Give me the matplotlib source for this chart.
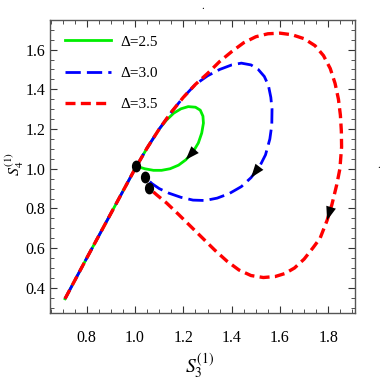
import matplotlib
matplotlib.use("Agg")
import matplotlib.pyplot as plt
from matplotlib.markers import MarkerStyle
from matplotlib.transforms import Affine2D

plt.rcParams['font.family'] = ['Liberation Serif', 'DejaVu Serif']
plt.rcParams['mathtext.fontset'] = 'stix'

# shared rising branch (all three curves run along it)
trunk_x = [0.71, 0.80, 0.90, 1.00, 1.05, 1.10]
trunk_y = [0.345, 0.55, 0.775, 1.00, 1.105, 1.20]

# Delta = 2.5 loop, ends at its starting dot
green_x = [1.13, 1.16, 1.19, 1.22, 1.25, 1.27, 1.281, 1.283, 1.276, 1.262,
           1.24, 1.21, 1.18, 1.145, 1.11, 1.076, 1.04, 1.005]
green_y = [1.245, 1.28, 1.302, 1.313, 1.31, 1.295, 1.265, 1.23, 1.18, 1.13,
           1.085, 1.045, 1.018, 1.0, 0.992, 0.992, 1.0, 1.013]
green_arrow = 10

# Delta = 3.0
blue_x = [1.15, 1.20, 1.25, 1.30, 1.35, 1.40, 1.44, 1.48, 1.51, 1.535, 1.552,
          1.562, 1.567, 1.566, 1.558, 1.54, 1.515, 1.48, 1.44, 1.39, 1.34,
          1.29, 1.24, 1.19, 1.14, 1.10, 1.07, 1.041]
blue_y = [1.285, 1.36, 1.425, 1.468, 1.50, 1.523, 1.532, 1.523, 1.50, 1.465, 1.42,
          1.36, 1.30, 1.22, 1.15, 1.07, 1.01, 0.955, 0.91, 0.875, 0.852,
          0.84, 0.842, 0.856, 0.877, 0.90, 0.925, 0.958]
blue_arrow = 16

# Delta = 3.5
red_x = [1.15, 1.20, 1.25, 1.30, 1.35, 1.40, 1.45, 1.50, 1.55, 1.60, 1.65,
         1.70, 1.745, 1.78, 1.808, 1.828, 1.842, 1.85, 1.854, 1.855, 1.848,
         1.835, 1.815, 1.795, 1.766, 1.738, 1.70, 1.66, 1.62, 1.58, 1.531,
         1.48, 1.43, 1.38, 1.33, 1.28, 1.23, 1.18, 1.13, 1.09, 1.058]
red_y = [1.285, 1.36, 1.425, 1.48, 1.54, 1.59, 1.635, 1.665, 1.68, 1.683, 1.675,
         1.655, 1.62, 1.57, 1.505, 1.43, 1.35, 1.27, 1.19, 1.11, 1.00,
         0.92, 0.82, 0.74, 0.65, 0.604, 0.545, 0.50, 0.472, 0.457, 0.452,
         0.462, 0.49, 0.535, 0.59, 0.65, 0.71, 0.77, 0.828, 0.868, 0.902]
red_arrow = 22

labels = ['Δ=2.5', 'Δ=3.0', 'Δ=3.5']

fig = plt.figure(figsize=(3.82, 3.82), dpi=100)
ax = fig.add_axes([0.131, 0.181, 0.798, 0.767])

curves = [
    (trunk_x + green_x, trunk_y + green_y, green_arrow,
     dict(color='#00ee00', lw=2.0, ls='-')),
    (trunk_x + blue_x, trunk_y + blue_y, blue_arrow,
     dict(color='#0000ff', lw=2.0, dashes=(5.5, 2.2))),
    (trunk_x + red_x, trunk_y + red_y, red_arrow,
     dict(color='#ff0000', lw=2.4, dashes=(3.0, 1.6))),
]

dot = MarkerStyle('o', transform=Affine2D().scale(0.75, 1.0))
for (xs, ys, ia, style), lab in zip(curves, labels):
    ax.plot(xs, ys, label=lab, **style)

for xs, ys, ia, style in curves:
    k = len(trunk_x) + ia
    ax.annotate('', xy=(xs[k + 1], ys[k + 1]), xytext=(xs[k], ys[k]),
                arrowprops=dict(arrowstyle='-|>,head_length=0.55,head_width=0.2',
                                color='black', lw=0,
                                mutation_scale=18, shrinkA=0, shrinkB=0),
                zorder=5)
    ax.plot(xs[-1], ys[-1], marker=dot, ms=7.5, color='black', zorder=6)

ax.set_xlim(0.648, 1.91)
ax.set_ylim(0.274, 1.75)
ax.set_xticks([0.8, 1.0, 1.2, 1.4, 1.6, 1.8])
ax.set_xticks([0.65 + 0.05 * i for i in range(26)], minor=True)
ax.set_yticks([0.4, 0.6, 0.8, 1.0, 1.2, 1.4, 1.6])
ax.set_yticks([0.3 + 0.05 * i for i in range(29)], minor=True)
ax.tick_params(which='both', direction='in', top=True, right=True,
               labelsize=11.5, colors='#333333', labelcolor='black')
ax.tick_params(which='major', length=5, width=0.8)
ax.tick_params(which='minor', length=3, width=0.6)
ax.tick_params(axis='x', pad=12)
for s in ax.spines.values():
    s.set_color('#555555')
    s.set_linewidth(1.0)

ax.text(0.489, -0.182, '$S_3^{(1)}$', fontsize=14, ha='center', va='center',
        transform=ax.transAxes)
ax.text(-0.117, 0.51, '$S_4^{(1)}$', fontsize=11.5, ha='center', va='center',
        rotation=90, transform=ax.transAxes)

ax.legend(loc='upper left', frameon=False, fontsize=11, handlelength=3.0,
          handletextpad=0.6, labelspacing=1.15, borderaxespad=0.6)

fig.text(0.531, 0.995, '.', fontsize=8, ha='center', va='top')
fig.text(0.99, 0.567, '.', fontsize=8, ha='center', va='center')

fig.savefig('out.png', dpi=100)
